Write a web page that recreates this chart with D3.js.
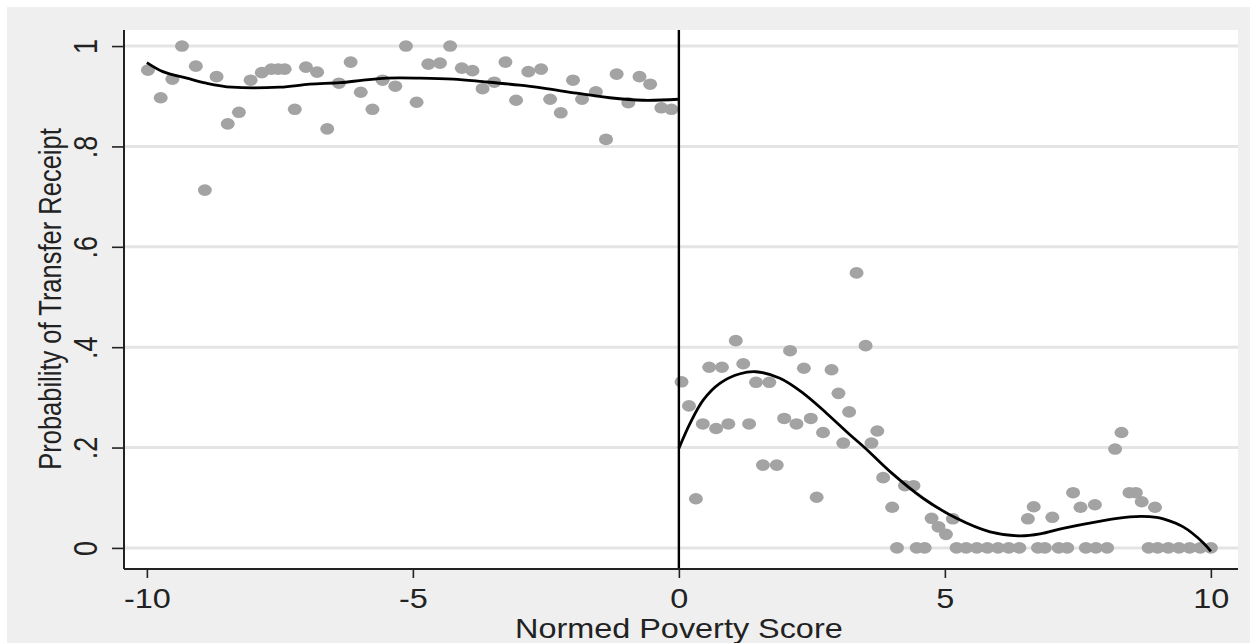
<!DOCTYPE html>
<html>
<head>
<meta charset="utf-8">
<script src="https://cdn.jsdelivr.net/npm/d3@7"></script>
<style>
  body { margin: 0; background: #ffffff; }
  svg { display: block; font-family: "Liberation Sans", Arial, sans-serif; }
</style>
</head>
<body>
<div id="chart"></div>
<script>
// binned means left of the cutoff
const leftX = [-9.98, -9.74, -9.52, -9.34, -9.08, -8.91, -8.69, -8.48, -8.27, -8.05,
  -7.84, -7.66, -7.53, -7.41, -7.22, -7.01, -6.80, -6.61, -6.39, -6.17,
  -5.98, -5.76, -5.57, -5.33, -5.13, -4.93, -4.71, -4.49, -4.30, -4.08,
  -3.88, -3.69, -3.47, -3.26, -3.06, -2.83, -2.59, -2.42, -2.22, -1.99,
  -1.82, -1.56, -1.37, -1.17, -0.95, -0.74, -0.54, -0.33, -0.14];
const leftY = [0.952, 0.897, 0.934, 1.0, 0.960, 0.713, 0.939, 0.845, 0.868, 0.932,
  0.947, 0.954, 0.954, 0.954, 0.874, 0.958, 0.948, 0.835, 0.926, 0.968,
  0.908, 0.874, 0.932, 0.920, 1.0, 0.888, 0.964, 0.966, 1.0, 0.956,
  0.951, 0.915, 0.928, 0.968, 0.892, 0.949, 0.954, 0.894, 0.867, 0.932,
  0.894, 0.909, 0.814, 0.944, 0.887, 0.939, 0.924, 0.877, 0.874];

// binned means right of the cutoff
const rightX = [0.05, 0.19, 0.32, 0.45, 0.57, 0.70, 0.81, 0.93, 1.07, 1.21,
  1.32, 1.45, 1.58, 1.70, 1.84, 1.98, 2.09, 2.21, 2.35, 2.48,
  2.59, 2.71, 2.87, 3.00, 3.09, 3.20, 3.34, 3.51, 3.62, 3.73,
  3.84, 4.01, 4.10, 4.25, 4.41, 4.47, 4.62, 4.75, 4.88, 5.02,
  5.15, 5.22, 5.40, 5.60, 5.80, 6.00, 6.20, 6.40, 6.56, 6.67,
  6.75, 6.88, 7.02, 7.14, 7.30, 7.41, 7.55, 7.65, 7.82, 7.84,
  8.05, 8.20, 8.32, 8.47, 8.59, 8.70, 8.83, 8.95, 9.00, 9.20,
  9.40, 9.60, 9.80, 10.0];
const rightY = [0.331, 0.283, 0.098, 0.247, 0.360, 0.238, 0.360, 0.247, 0.413, 0.367,
  0.247, 0.330, 0.165, 0.330, 0.165, 0.258, 0.393, 0.247, 0.358, 0.258,
  0.101, 0.230, 0.355, 0.308, 0.209, 0.271, 0.548, 0.403, 0.209, 0.233,
  0.140, 0.081, 0, 0.124, 0.124, 0, 0, 0.059, 0.042, 0.027,
  0.058, 0, 0, 0, 0, 0, 0, 0, 0.058, 0.082,
  0, 0, 0.061, 0, 0, 0.110, 0.081, 0, 0.086, 0,
  0, 0.197, 0.230, 0.110, 0.110, 0.092, 0, 0.081, 0, 0,
  0, 0, 0, 0];

// fitted polynomial
const fitLeftX = [-10.0, -9.7, -9.25, -8.88, -8.4, -7.5, -6.94, -6.37, -5.93, -5.49,
  -4.87, -4.24, -3.68, -2.99, -2.55, -1.92, -1.30, -0.67, 0];
const fitLeftY = [0.967, 0.949, 0.936, 0.926, 0.918, 0.918, 0.924, 0.927, 0.932, 0.936,
  0.936, 0.934, 0.929, 0.922, 0.916, 0.906, 0.897, 0.892, 0.894];
const fitRightX = [0, 0.21, 0.46, 0.77, 1.15, 1.45, 1.9, 2.34, 2.78, 3.21,
  3.5, 3.97, 4.59, 5.22, 5.85, 6.41, 6.79, 7.22, 7.85, 8.48,
  8.98, 9.1, 9.48, 9.86, 10.0];
const fitRightY = [0.198, 0.248, 0.295, 0.328, 0.347, 0.351, 0.338, 0.308, 0.268, 0.226,
  0.199, 0.152, 0.099, 0.059, 0.032, 0.024, 0.028, 0.039, 0.052, 0.062,
  0.061, 0.058, 0.042, 0.010, -0.007];

const xTicks = [-10, -5, 0, 5, 10];
const yTicks = [0, 0.2, 0.4, 0.6, 0.8, 1];
const yTickLabels = ["0", ".2", ".4", ".6", ".8", "1"];
const cutoff = 0;
const xTitle = "Normed Poverty Score";
const yTitle = "Probability of Transfer Receipt";

const width = 1250, height = 643;
const plot = { left: 124, right: 1238, top: 30, bottom: 569 };
const stretch = 1.2; // the graph was widened a bit, text is too

const svg = d3.select("#chart").append("svg")
  .attr("width", width)
  .attr("height", height);

const x = d3.scaleLinear().domain([-10.43, 10.51]).range([plot.left, plot.right]);
const y = d3.scaleLinear().domain([-0.042, 1.032]).range([plot.bottom, plot.top]);

// outer grey panel and white plot region
svg.append("rect")
  .attr("x", 7).attr("y", 7)
  .attr("width", width - 7).attr("height", height - 7)
  .attr("fill", "#efefef");
svg.append("rect")
  .attr("x", plot.left).attr("y", plot.top)
  .attr("width", plot.right - plot.left).attr("height", plot.bottom - plot.top)
  .attr("fill", "#ffffff");

// grid
svg.append("g")
  .selectAll("line")
  .data(yTicks)
  .enter()
  .append("line")
  .attr("x1", plot.left).attr("x2", plot.right)
  .attr("y1", d => y(d)).attr("y2", d => y(d))
  .attr("stroke", "#e4e4e4")
  .attr("stroke-width", 3);

// points
const pts = leftX.map((d, i) => [d, leftY[i]])
  .concat(rightX.map((d, i) => [d, rightY[i]]));
svg.append("g")
  .selectAll("ellipse")
  .data(pts)
  .enter()
  .append("ellipse")
  .attr("cx", d => x(d[0]))
  .attr("cy", d => y(d[1]))
  .attr("rx", 7)
  .attr("ry", 5.8)
  .attr("fill", "#a3a3a3");

// fitted lines
const line = d3.line()
  .x(d => x(d[0]))
  .y(d => y(d[1]))
  .curve(d3.curveCatmullRom.alpha(0.5));

[[fitLeftX, fitLeftY], [fitRightX, fitRightY]].forEach(([xs, ys]) => {
  svg.append("path")
    .datum(xs.map((d, i) => [d, ys[i]]))
    .attr("d", line)
    .attr("fill", "none")
    .attr("stroke", "#000")
    .attr("stroke-width", 2.8);
});

// cutoff line
svg.append("line")
  .attr("x1", x(cutoff)).attr("x2", x(cutoff))
  .attr("y1", plot.top).attr("y2", plot.bottom)
  .attr("stroke", "#000")
  .attr("stroke-width", 2.4);

// axes
const xAxis = svg.append("g")
  .attr("transform", "translate(0," + plot.bottom + ")")
  .call(d3.axisBottom(x).tickValues(xTicks).tickSize(9).tickSizeOuter(0).tickFormat(d3.format("d")));
xAxis.select(".domain").attr("stroke", "#222").attr("stroke-width", 2).attr("d", "M" + plot.left + ",0H" + plot.right);
xAxis.selectAll(".tick line").attr("stroke", "#222").attr("stroke-width", 1.6);
xAxis.selectAll(".tick text").remove();
xAxis.selectAll(".tick")
  .append("text")
  .attr("transform", "translate(0,39) scale(" + stretch + ",1)")
  .attr("text-anchor", "middle")
  .attr("fill", "#222")
  .style("font-size", "27px")
  .text(d => d);

const yAxis = svg.append("g")
  .attr("transform", "translate(" + plot.left + ",0)")
  .call(d3.axisLeft(y).tickValues(yTicks).tickSize(12).tickSizeOuter(0));
yAxis.select(".domain").attr("stroke", "#222").attr("stroke-width", 2).attr("d", "M0," + plot.top + "V" + plot.bottom);
yAxis.selectAll(".tick line").attr("stroke", "#222").attr("stroke-width", 1.6);
yAxis.selectAll(".tick text").remove();
yAxis.selectAll(".tick")
  .append("text")
  .attr("transform", "translate(-27,0) scale(" + stretch + ",1) rotate(-90)")
  .attr("text-anchor", "middle")
  .attr("fill", "#222")
  .style("font-size", "27px")
  .text((d, i) => yTickLabels[i]);

// titles
svg.append("text")
  .attr("transform", "translate(" + x(0) + ",638) scale(" + stretch + ",1)")
  .attr("text-anchor", "middle")
  .attr("fill", "#222")
  .style("font-size", "27px")
  .text(xTitle);

svg.append("text")
  .attr("transform", "translate(61,299) scale(1.25,1) rotate(-90)")
  .attr("text-anchor", "middle")
  .attr("fill", "#222")
  .style("font-size", "25.5px")
  .text(yTitle);
</script>
</body>
</html>
